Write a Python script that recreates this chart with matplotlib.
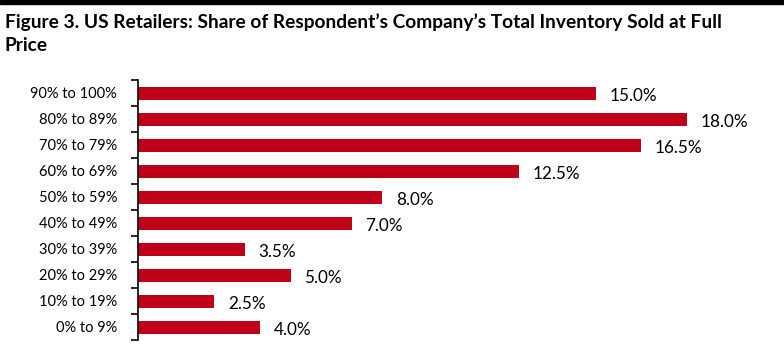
import matplotlib
matplotlib.use("Agg")
import matplotlib.pyplot as plt
from matplotlib.patches import Rectangle

categories = ["90% to 100%", "80% to 89%", "70% to 79%", "60% to 69%", "50% to 59%",
              "40% to 49%", "30% to 39%", "20% to 29%", "10% to 19%", "0% to 9%"]
values = [15.0, 18.0, 16.5, 12.5, 8.0, 7.0, 3.5, 5.0, 2.5, 4.0]
title = "Figure 3. US Retailers: Share of Respondent\u2019s Company\u2019s Total Inventory Sold at Full\nPrice"

W, H = 784, 358
fig = plt.figure(figsize=(W/100, H/100), dpi=100)
fig.patches.append(Rectangle((0, 1 - 4/H), 1, 4/H, transform=fig.transFigure, color="black"))
fig.text(5/W, 1 - 13/H, title, fontsize=13.8, fontweight="bold", family="Lato",
         va="top", ha="left", linespacing=1.45, color="black")

ax = fig.add_axes([138/W, 18/H, 610/W, 260/H])
y = list(range(len(categories)))[::-1]
ax.barh(y, values, height=0.5, color="#BE0019")
for yi, v in zip(y, values):
    ax.text(v + 0.45, yi - 0.1, f"{v:.1f}%", va="center", ha="left", fontsize=12.3, family="Lato")
ax.set_ylim(-0.5, 9.5)
ax.set_xlim(0, 20)
ax.set_yticks(y)
ax.set_yticklabels(categories, fontsize=10.5, family="Lato")
ax.set_yticks([i + 0.5 for i in range(-1, 10)], minor=True)
ax.tick_params(axis="y", which="major", length=0, pad=15)
ax.tick_params(axis="y", which="minor", length=5, width=1.2, direction="out")
ax.set_xticks([])
for s in ["top", "right", "bottom"]:
    ax.spines[s].set_visible(False)
ax.spines["left"].set_linewidth(1.2)
fig.savefig("out.png", dpi=100)
